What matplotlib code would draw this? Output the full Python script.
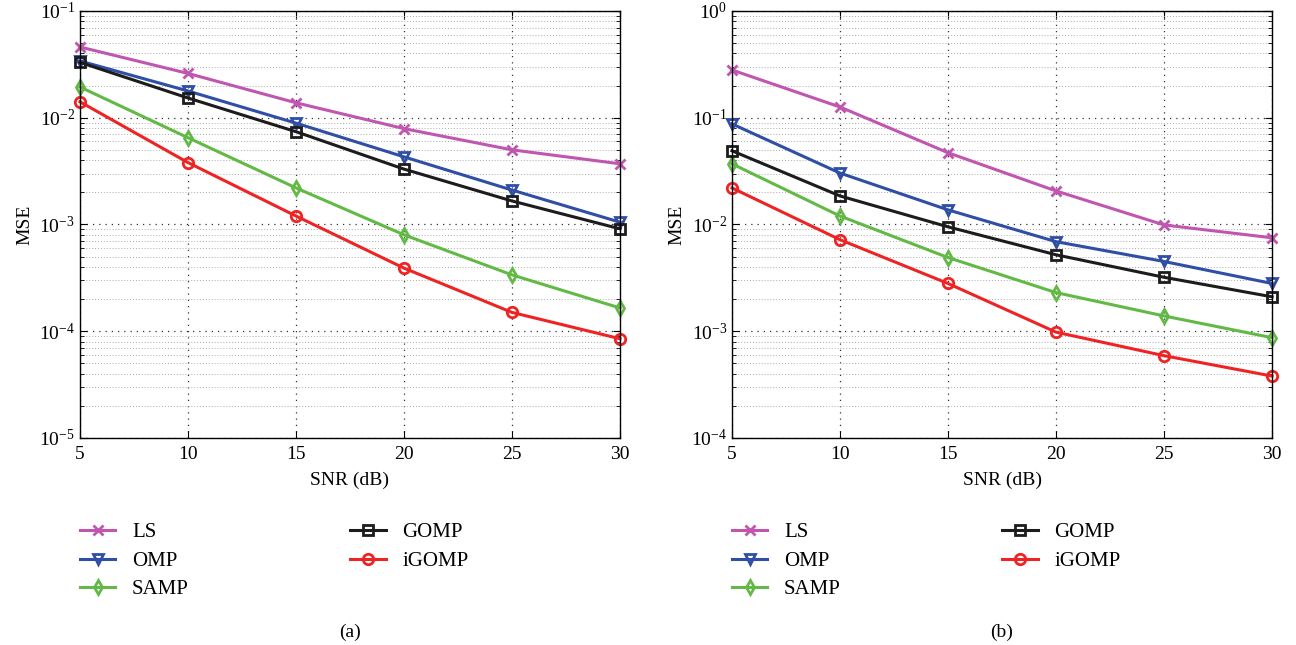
import numpy as np
import matplotlib
matplotlib.use("Agg")
import matplotlib.pyplot as plt
from matplotlib.ticker import LogLocator, NullFormatter

plt.rcParams["font.family"] = ["Liberation Serif", "DejaVu Serif"]
plt.rcParams["mathtext.fontset"] = "stix"

# data
snr = [5, 10, 15, 20, 25, 30]

# panel (a)
ls_a = [0.046, 0.026, 0.0138, 0.0079, 0.0050, 0.0037]
omp_a = [0.034, 0.0178, 0.0089, 0.0043, 0.0021, 0.00105]
samp_a = [0.0194, 0.0065, 0.0022, 0.00080, 0.000337, 0.000165]
gomp_a = [0.033, 0.0153, 0.0074, 0.0033, 0.00166, 0.00091]
igomp_a = [0.0141, 0.0038, 0.0012, 0.00039, 0.00015, 0.000085]

# panel (b)
ls_b = [0.28, 0.126, 0.047, 0.0206, 0.0099, 0.0075]
omp_b = [0.0875, 0.0303, 0.0137, 0.0069, 0.0045, 0.0028]
samp_b = [0.037, 0.012, 0.0049, 0.0023, 0.00139, 0.00087]
gomp_b = [0.049, 0.0185, 0.0095, 0.0052, 0.0032, 0.0021]
igomp_b = [0.022, 0.0072, 0.0028, 0.00098, 0.00059, 0.00038]

labels = ["LS", "OMP", "SAMP", "GOMP", "iGOMP"]
colors = ["#c056b0", "#2f4fa6", "#62b946", "#1c1c1c", "#ee2424"]
markers = ["x", "v", "d", "s", "o"]


def draw_panel(ax, series, ylim, tag):
    for y, lab, c, m in zip(series, labels, colors, markers):
        ax.semilogy(snr, y, color=c, marker=m, markersize=7.5, markeredgewidth=2,
                    markerfacecolor="none", linewidth=2.2, label=lab, clip_on=False)
    ax.set_xlim(5, 30)
    ax.set_ylim(*ylim)
    ax.set_xticks(snr)
    ax.yaxis.set_major_locator(LogLocator(base=10))
    ax.yaxis.set_minor_locator(LogLocator(base=10, subs=np.arange(2, 10)))
    ax.yaxis.set_minor_formatter(NullFormatter())
    ax.tick_params(which="both", direction="in", top=True, right=True, labelsize=14)
    ax.tick_params(axis="x", pad=6)
    ax.tick_params(which="major", length=5)
    ax.tick_params(which="minor", length=3)
    ax.grid(True, which="major", linestyle=(0, (1, 4)), color="#333333", linewidth=0.9)
    ax.grid(True, which="minor", linestyle=(0, (1, 2)), color="#aaaaaa", linewidth=0.7)
    ax.set_xlabel("SNR (dB)", fontsize=14, labelpad=6)
    ax.set_ylabel("MSE", fontsize=14, labelpad=4)
    for s in ax.spines.values():
        s.set_linewidth(1.0)
    ax.legend(loc="upper left", bbox_to_anchor=(-0.035, -0.155), ncol=2, frameon=False,
              fontsize=15, handlelength=1.7, columnspacing=7.75, labelspacing=0.42,
              handletextpad=0.8)
    ax.text(0.5, -0.455, tag, transform=ax.transAxes, ha="center", va="center", fontsize=14)


fig = plt.figure(figsize=(12.96, 6.45), dpi=100)
ax1 = fig.add_axes([0.0617, 0.321, 0.4167, 0.662])
ax2 = fig.add_axes([0.5648, 0.321, 0.4167, 0.662])

draw_panel(ax1, [ls_a, omp_a, samp_a, gomp_a, igomp_a], (1e-5, 1e-1), "(a)")
draw_panel(ax2, [ls_b, omp_b, samp_b, gomp_b, igomp_b], (1e-4, 1e0), "(b)")

fig.savefig("out.png", dpi=100)
